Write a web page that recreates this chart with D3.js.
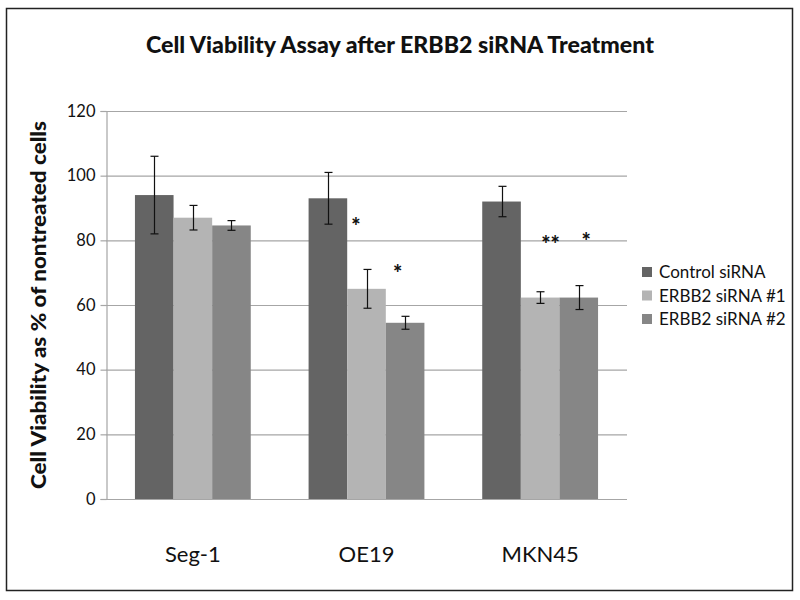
<!DOCTYPE html>
<html><head><meta charset="utf-8">
<script src="https://cdn.jsdelivr.net/npm/d3@7"></script>
<style>body{margin:0;background:#fff}svg{display:block}text{font-family:Lato,"Open Sans",sans-serif}</style>
</head><body><svg id="c" width="800" height="600"></svg>
<script>
const categories = ["Seg-1", "OE19", "MKN45"];
const seriesNames = ["Control siRNA", "ERBB2 siRNA #1", "ERBB2 siRNA #2"];
const controlVals = [94, 93, 92];
const erbb1Vals = [87, 65, 62.3];
const erbb2Vals = [84.6, 54.5, 62.3];
const controlErr = [12, 8, 4.7];
const erbb1Err = [3.8, 6, 1.8];
const erbb2Err = [1.5, 2, 3.7];
const yTicks = [0, 20, 40, 60, 80, 100, 120];
const starLabels = ["*", "*", "**", "*"];
const starCats = ["OE19", "OE19", "MKN45", "MKN45"];
const starPos = [0.44, 0.68, 0.56, 0.765];
const starY = [85.4, 70.8, 79.9, 80.8];
const colors = ["#646464", "#b4b4b4", "#868686"];

const svg = d3.select("#c");
svg.append("rect").attr("x",0).attr("y",0).attr("width",800).attr("height",600).attr("fill","#fff");
svg.append("rect").attr("x",6.5).attr("y",8.5).attr("width",786).attr("height",582)
  .attr("fill","none").attr("stroke","#222").attr("stroke-width",1.5);

const L = 106, R = 627, T = 111, B = 499;
const x0 = d3.scaleBand().domain(categories).range([L, R]).paddingInner(0.333).paddingOuter(0.1667);
const x1 = d3.scaleBand().domain(seriesNames).range([0, x0.bandwidth()]);
const y = d3.scaleLinear().domain([0, 120]).range([B, T]);
const xPos = d3.scaleLinear().domain([0, 1]).range([0, x0.step()]);

// gridlines
svg.append("g").selectAll("line").data(yTicks).join("line")
  .attr("x1", L).attr("x2", R).attr("y1", d => y(d) + 0.5).attr("y2", d => y(d) + 0.5)
  .attr("stroke", "#a6a6a6").attr("stroke-width", 1.2);

// y axis
const yAxis = d3.axisLeft(y).tickValues(yTicks).tickSize(6).tickPadding(5);
const ga = svg.append("g").attr("transform", `translate(${L + 0.5},0)`).call(yAxis);
ga.select(".domain").attr("stroke", "#a6a6a6").attr("stroke-width",1.2);
ga.selectAll(".tick line").attr("stroke", "#a6a6a6").attr("stroke-width",1.2);
ga.selectAll(".tick text").attr("font-size", 16.5).attr("fill", "#111").attr("font-family","Lato");

const vals = [controlVals, erbb1Vals, erbb2Vals];
const errs = [controlErr, erbb1Err, erbb2Err];
const rows = [];
categories.forEach((c, i) => seriesNames.forEach((s, j) => rows.push({c, s, j, v: vals[j][i], e: errs[j][i]})));

svg.append("g").selectAll("rect").data(rows).join("rect")
  .attr("x", d => x0(d.c) + x1(d.s)).attr("width", x1.bandwidth())
  .attr("y", d => y(d.v)).attr("height", d => y(0) - y(d.v))
  .attr("fill", d => colors[d.j]);

// error bars
const eg = svg.append("g").attr("stroke", "#111").attr("stroke-width", 1.2);
rows.forEach(d => {
  const cx = Math.round(x0(d.c) + x1(d.s) + x1.bandwidth() / 2) + 0.5;
  eg.append("line").attr("x1", cx).attr("x2", cx).attr("y1", y(d.v + d.e)).attr("y2", y(d.v - d.e));
  eg.append("line").attr("x1", cx - 4).attr("x2", cx + 4).attr("y1", y(d.v + d.e)).attr("y2", y(d.v + d.e));
  eg.append("line").attr("x1", cx - 4).attr("x2", cx + 4).attr("y1", y(d.v - d.e)).attr("y2", y(d.v - d.e));
});

// stars
svg.append("g").selectAll("text").data(starLabels).join("text")
  .attr("x", (d, i) => x0(starCats[i]) + xPos(starPos[i]) - x0.paddingOuter() * x0.step())
  .attr("y", (d, i) => y(starY[i]) + 11)
  .attr("text-anchor", "middle").attr("font-size", 22).attr("font-weight", 900).attr("fill", "#111")
  .text(d => d);

// x labels
svg.append("g").selectAll("text").data(categories).join("text")
  .attr("x", d => x0(d) + x0.bandwidth() / 2).attr("y", 562)
  .attr("text-anchor", "middle").attr("font-size", 22).attr("fill", "#111").text(d => d);

// title
svg.append("text").attr("x", 400).attr("y", 53).attr("text-anchor", "middle")
  .attr("font-size", 22).attr("font-weight", 900).attr("fill", "#111")
  .attr("textLength", 508).attr("lengthAdjust", "spacingAndGlyphs")
  .text("Cell Viability Assay after ERBB2 siRNA Treatment");

// y title
svg.append("text").attr("transform", `translate(46,${(T + B) / 2}) rotate(-90)`)
  .attr("text-anchor", "middle").attr("font-size", 21).attr("font-weight", 900).attr("fill", "#111")
  .attr("textLength", 368).attr("lengthAdjust", "spacingAndGlyphs")
  .text("Cell Viability as % of nontreated cells");

// legend
const lg = svg.append("g").selectAll("g").data(seriesNames).join("g")
  .attr("transform", (d, i) => `translate(642,${272 + i * 23.5})`);
lg.append("rect").attr("x", 0).attr("y", -5).attr("width", 10).attr("height", 10).attr("fill", (d, i) => colors[i]);
lg.append("text").attr("x", 17).attr("y", 6).attr("font-size", 17).attr("fill", "#111").text(d => d);
</script></body></html>
